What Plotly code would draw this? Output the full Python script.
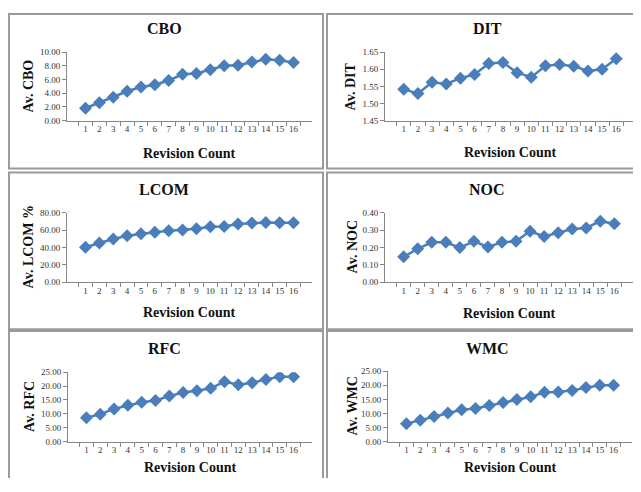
import plotly.graph_objects as go

revisions = [str(i) for i in range(1, 17)]

cbo = [1.81, 2.62, 3.43, 4.29, 4.90, 5.24, 5.86, 6.76, 6.90, 7.43, 8.00, 8.10, 8.57, 8.95, 8.81, 8.48]
dit = [1.542, 1.529, 1.562, 1.557, 1.574, 1.585, 1.617, 1.620, 1.590, 1.577, 1.610, 1.614, 1.609, 1.595, 1.600, 1.631]
lcom = [40.2, 45.1, 49.6, 53.3, 55.6, 57.5, 59.3, 60.1, 61.6, 63.8, 64.2, 66.9, 68.0, 68.7, 68.4, 68.4]
noc = [0.146, 0.192, 0.229, 0.229, 0.199, 0.235, 0.203, 0.229, 0.235, 0.293, 0.263, 0.284, 0.306, 0.312, 0.351, 0.336]
rfc = [8.6, 9.9, 11.8, 13.1, 14.2, 14.8, 16.4, 17.7, 18.3, 19.2, 21.6, 20.5, 21.2, 22.4, 23.4, 23.4]
wmc = [6.4, 7.6, 8.9, 10.2, 11.3, 11.8, 12.8, 13.9, 15.0, 15.9, 17.5, 17.6, 18.2, 19.2, 20.0, 20.0]

titles = ["CBO", "DIT", "LCOM", "NOC", "RFC", "WMC"]
ytitles = ["Av. CBO", "Av. DIT", "Av. LCOM %", "Av. NOC", "Av. RFC", "Av. WMC"]
series = [cbo, dit, lcom, noc, rfc, wmc]
yranges = [(0, 10), (1.45, 1.65), (0, 80), (0, 0.4), (0, 25), (0, 25)]
ydticks = [2, 0.05, 20, 0.1, 5, 5]

# figure sits at (8, 8) inside the 641x492 window (default page margin)
OX, OY = 8, 8
W, H = 641 - OX, 492 - 2 * OY - 6


def fx(px):
    return (px - OX) / W


def fy(py):
    return 1 - (py - OY) / H


# plot-area boxes in window pixels: (x0, x1, ytop, ybottom)
boxes = [
    (67, 312, 48, 118),
    (385, 635, 48, 118),
    (67, 312, 212, 283),
    (385, 633, 212, 283),
    (68, 312, 375, 446),
    (388, 632, 374, 446),
]
# title y, x-title y, y-title x, panel center x
texts = [
    (25, 153, 28, 164),
    (25, 152, 350, 487),
    (189, 315, 28, 164),
    (189, 316, 352, 487),
    (352, 473, 30, 164),
    (352, 473, 352, 487),
]
panels = [
    (5, 323, 5, 167),
    (327, 700, 5, 167),
    (5, 323, 171, 331),
    (327, 700, 171, 331),
    (5, 323, 333, 560),
    (327, 700, 333, 560),
]

fig = go.Figure()
layout = dict(
    width=W, height=H, margin=dict(l=0, r=0, t=0, b=0),
    paper_bgcolor="white", plot_bgcolor="white", showlegend=False,
    font=dict(family="Liberation Serif, Times New Roman, serif", color="#222"),
)
annotations = []
shapes = []
BLUE = "#4A7EBB"
for i in range(6):
    n = i + 1
    x0, x1, yt, yb = boxes[i]
    fig.add_trace(go.Scatter(
        x=revisions, y=series[i], mode="lines+markers",
        line=dict(color=BLUE, width=2.5),
        marker=dict(symbol="diamond", size=10, color=BLUE),
        xaxis=f"x{n}", yaxis=f"y{n}",
    ))
    xa = dict(
        domain=[fx(x0), min(fx(x1), 1.0)], anchor=f"y{n}", type="category",
        tickson="boundaries", ticks="outside", ticklen=4, tickcolor="#868686",
        showline=True, linecolor="#868686", linewidth=1, showgrid=False,
        tickangle=0, tickfont=dict(size=9, color="#333"), zeroline=False,
    )
    ya = dict(
        domain=[fy(yb), fy(yt)], anchor=f"x{n}",
        range=list(yranges[i]), dtick=ydticks[i], tick0=yranges[i][0],
        tickformat=".2f", ticks="outside", ticklen=4, tickcolor="#868686",
        showline=True, linecolor="#868686", linewidth=1, showgrid=False,
        tickfont=dict(size=9, color="#333"), zeroline=False,
    )
    key = "" if n == 1 else str(n)
    layout["xaxis" + key] = xa
    layout["yaxis" + key] = ya

    ty, xty, ytx, pcx = texts[i]
    annotations.append(dict(
        text=f"<b>{titles[i]}</b>", x=fx(pcx), y=fy(ty - 1), xref="paper", yref="paper",
        showarrow=False, font=dict(size=16, color="#111"), xanchor="center", yanchor="middle"))
    annotations.append(dict(
        text="<b>Revision Count</b>", x=fx((x0 + x1) / 2), y=fy(xty - 1), xref="paper", yref="paper",
        showarrow=False, font=dict(size=14, color="#111"), xanchor="center", yanchor="middle"))
    annotations.append(dict(
        text=f"<b>{ytitles[i]}</b>", x=fx(ytx), y=fy((yt + yb) / 2), xref="paper", yref="paper",
        showarrow=False, textangle=-90, font=dict(size=14, color="#111"),
        xanchor="center", yanchor="middle"))
    px0, px1, py0, py1 = panels[i]
    shapes.append(dict(type="rect", xref="paper", yref="paper",
                       x0=max(fx(px0), 0.0015), x1=fx(px1),
                       y0=fy(py1), y1=min(fy(py0), 0.998),
                       line=dict(color="#9a9a9a", width=2)))

layout["annotations"] = annotations
layout["shapes"] = shapes
fig.update_layout(**layout)
fig.write_html("out.html")
